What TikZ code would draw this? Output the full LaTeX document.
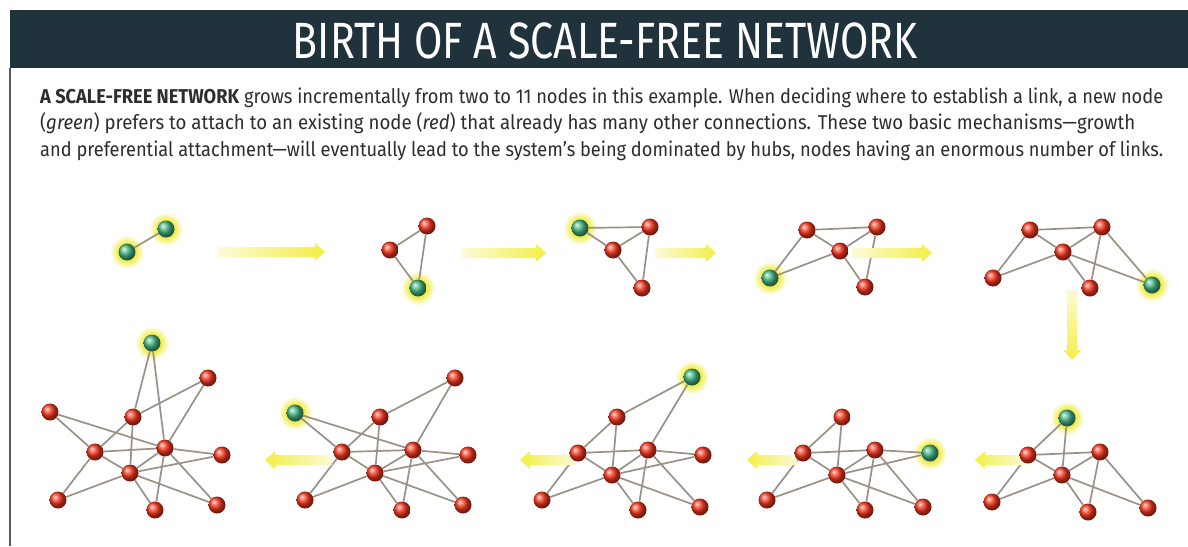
\documentclass[tikz,border=0pt]{standalone}
\usepackage{fontspec}
\usepackage{graphicx}
\newfontfamily\firafont{Fira Sans}
\usetikzlibrary{shadings}
\pgfdeclarelayer{bg}
\pgfdeclarelayer{edges}
\pgfsetlayers{bg,edges,main}
\definecolor{bandcol}{RGB}{32,50,60}
\definecolor{captcol}{RGB}{45,45,45}
\definecolor{nodered}{RGB}{250,55,30}
\definecolor{nodegreen}{RGB}{70,185,135}
\definecolor{linkcol}{RGB}{155,145,135}
\definecolor{arrowyellow}{RGB}{243,238,70}
\definecolor{arrowpale}{RGB}{252,250,215}
\definecolor{glowyellow}{RGB}{240,236,75}
\definecolor{bordercol}{RGB}{90,90,90}
\pgfdeclareradialshading{glowshade}{\pgfpoint{0bp}{0bp}}{color(0bp)=(glowyellow); color(13bp)=(glowyellow); color(25bp)=(white); color(50bp)=(white)}
\tikzset{
  rball/.style={circle, inner sep=0pt, minimum size=17pt, shading=ball, ball color=nodered},
  gball/.style={circle, inner sep=0pt, minimum size=17pt, shading=ball, ball color=nodegreen},
  link/.style={draw=linkcol, line width=1.7pt},
  glow/.style={shading=glowshade},
  pics/fatright/.style={code={
    \shade[left color=arrowpale, right color=arrowyellow]
      (0,-5) -- (#1-10,-5) -- (#1-10,-9) -- (#1,0) -- (#1-10,9) -- (#1-10,5) -- (0,5) -- cycle;}},
  pics/fatleft/.style={code={
    \shade[left color=arrowyellow, right color=arrowpale]
      (0,-5) -- (-#1+10,-5) -- (-#1+10,-9) -- (-#1,0) -- (-#1+10,9) -- (-#1+10,5) -- (0,5) -- cycle;}},
  pics/fatdown/.style={code={
    \shade[top color=arrowpale, bottom color=arrowyellow]
      (-5,0) -- (-5,#1-10) -- (-9,#1-10) -- (0,#1) -- (9,#1-10) -- (5,#1-10) -- (5,0) -- cycle;}},
  title/.style={text=white, inner sep=0pt, anchor=base, font=\firafont\fontsize{51}{51}\selectfont},
  capline/.style={text=captcol, inner sep=0pt, anchor=base west, font=\firafont\fontsize{20}{20}\selectfont}
}
\begin{document}
\begin{tikzpicture}[x=1pt,y=-1pt]
\useasboundingbox (0,0) rectangle (1188,546);
\begin{pgfonlayer}{bg}
\fill[white] (0,0) rectangle (1188,546);
\fill[bandcol] (10,10) rectangle (1188,68);
\draw[bordercol, line width=2pt] (9.5,68) -- (9.5,546);
\end{pgfonlayer}
\node[title] (ttl) at (605.5,58) {\resizebox{625pt}{\height}{BIRTH OF A SCALE-FREE NETWORK}};
\node[capline] (cap1) at (40,103) {\resizebox{1123pt}{\height}{\textbf{A SCALE-FREE NETWORK} grows incrementally from two to 11 nodes in this example. When deciding where to establish a link, a new node}};
\node[capline] (cap2) at (40,129.5) {\resizebox{1095pt}{\height}{(\textit{green}) prefers to attach to an existing node (\textit{red}) that already has many other connections. These two basic mechanisms—growth}};
\node[capline] (cap3) at (40,156) {\resizebox{1123pt}{\height}{and preferential attachment—will eventually lead to the system’s being dominated by hubs, nodes having an enormous number of links.}};

% arrows
\pic at (218,252) {fatright=107};
\pic at (462,253) {fatright=84};
\pic at (655,253) {fatright=61};
\pic at (852,253) {fatright=80};
\pic at (1072,290) {fatdown=70};
\pic at (1025,460) {fatleft=50};
\pic at (797,460) {fatleft=50};
\pic at (575,460) {fatleft=55};
\pic at (332,460) {fatleft=67};

% ---- panel 1
\node[gball] (a1) at (127,252) {};
\node[gball] (a2) at (166,229) {};
% ---- panel 2
\node[rball] (b1) at (427,226) {};
\node[rball] (b2) at (390,250) {};
\node[gball] (b3) at (418,288) {};
% ---- panel 3
\node[gball] (c0) at (580,228) {};
\node[rball] (c1) at (650,227) {};
\node[rball] (c2) at (613,250) {};
\node[rball] (c3) at (642,288) {};
% ---- panel 4
\node[gball] (d0) at (770,278) {};
\node[rball] (d1) at (807,230) {};
\node[rball] (d2) at (840,251) {};
\node[rball] (d3) at (877,227) {};
\node[rball] (d4) at (865,287) {};
% ---- panel 5
\node[rball] (e1) at (1030,230) {};
\node[rball] (e2) at (1102,227) {};
\node[rball] (e3) at (1063,252) {};
\node[rball] (e4) at (993,278) {};
\node[rball] (e5) at (1090,288) {};
\node[gball] (e0) at (1152,285) {};
% ---- panel 6
\node[gball] (f0) at (1067,418) {};
\node[rball] (f1) at (1028,455) {};
\node[rball] (f2) at (1100,452) {};
\node[rball] (f3) at (1062,475) {};
\node[rball] (f4) at (992,502) {};
\node[rball] (f5) at (1088,512) {};
\node[rball] (f6) at (1148,508) {};
% ---- panel 7
\node[rball] (g7) at (842,417) {};
\node[rball] (g1) at (803,453) {};
\node[rball] (g2) at (875,450) {};
\node[rball] (g3) at (837,475) {};
\node[rball] (g4) at (767,500) {};
\node[rball] (g5) at (865,510) {};
\node[rball] (g6) at (923,507) {};
\node[gball] (g0) at (930,453) {};
% ---- panel 8
\node[gball] (h0) at (692,377) {};
\node[rball] (h7) at (617,417) {};
\node[rball] (h1) at (578,453) {};
\node[rball] (h2) at (648,450) {};
\node[rball] (h3) at (612,475) {};
\node[rball] (h4) at (542,500) {};
\node[rball] (h5) at (638,510) {};
\node[rball] (h6) at (700,507) {};
\node[rball] (h8) at (703,455) {};
% ---- panel 9
\node[gball] (i0) at (295,413) {};
\node[rball] (i9) at (455,378) {};
\node[rball] (i7) at (380,417) {};
\node[rball] (i1) at (342,452) {};
\node[rball] (i2) at (413,450) {};
\node[rball] (i3) at (375,473) {};
\node[rball] (i4) at (305,500) {};
\node[rball] (i5) at (402,510) {};
\node[rball] (i6) at (463,505) {};
\node[rball] (i8) at (468,455) {};
% ---- panel 10
\node[gball] (j0) at (152,343) {};
\node[rball] (j9) at (208,378) {};
\node[rball] (j7) at (133,417) {};
\node[rball] (j10) at (50,412) {};
\node[rball] (j1) at (95,452) {};
\node[rball] (j2) at (165,448) {};
\node[rball] (j3) at (130,473) {};
\node[rball] (j4) at (58,500) {};
\node[rball] (j5) at (155,510) {};
\node[rball] (j6) at (217,505) {};
\node[rball] (j8) at (222,455) {};

\begin{pgfonlayer}{bg}
\foreach \g in {a1,a2,b3,c0,d0,e0,f0,g0,h0,i0,j0}
  \shade[glow] (\g.center) circle (17);
\end{pgfonlayer}

\begin{pgfonlayer}{edges}
\draw[link] (a1) -- (a2);
\draw[link] (b1) -- (b2) (b2) -- (b3) (b1) -- (b3);
\draw[link] (c0) -- (c1) (c0) -- (c2) (c2) -- (c1) (c1) -- (c3) (c2) -- (c3);
\draw[link] (d0) -- (d1) (d0) -- (d2) (d1) -- (d3) (d1) -- (d2) (d2) -- (d3) (d3) -- (d4) (d2) -- (d4);
\draw[link] (e1) -- (e2) (e1) -- (e3) (e1) -- (e4) (e3) -- (e4) (e3) -- (e2) (e2) -- (e5) (e3) -- (e5) (e2) -- (e0) (e3) -- (e0);
\draw[link] (f0) -- (f1) (f0) -- (f3) (f1) -- (f2) (f1) -- (f3) (f1) -- (f4) (f3) -- (f4) (f3) -- (f2) (f2) -- (f5) (f3) -- (f5) (f2) -- (f6) (f3) -- (f6);
\draw[link] (g7) -- (g1) (g7) -- (g3) (g1) -- (g2) (g1) -- (g3) (g1) -- (g4) (g3) -- (g4) (g3) -- (g2) (g2) -- (g5) (g3) -- (g5) (g2) -- (g6) (g3) -- (g6) (g2) -- (g0) (g3) -- (g0);
\draw[link] (h0) -- (h7) (h0) -- (h2) (h7) -- (h1) (h7) -- (h3) (h1) -- (h2) (h1) -- (h3) (h1) -- (h4) (h3) -- (h4) (h3) -- (h2) (h2) -- (h5) (h3) -- (h5) (h2) -- (h6) (h3) -- (h6) (h2) -- (h8) (h3) -- (h8);
\draw[link] (i0) -- (i1) (i0) -- (i2) (i9) -- (i7) (i9) -- (i2) (i7) -- (i1) (i7) -- (i3) (i1) -- (i2) (i1) -- (i3) (i1) -- (i4) (i3) -- (i4) (i3) -- (i2) (i2) -- (i5) (i3) -- (i5) (i2) -- (i6) (i3) -- (i6) (i2) -- (i8) (i3) -- (i8);
\draw[link] (j0) -- (j7) (j0) -- (j2) (j10) -- (j1) (j10) -- (j2) (j9) -- (j7) (j9) -- (j2) (j7) -- (j1) (j7) -- (j3) (j1) -- (j2) (j1) -- (j3) (j1) -- (j4) (j3) -- (j4) (j3) -- (j2) (j2) -- (j5) (j3) -- (j5) (j2) -- (j6) (j3) -- (j6) (j2) -- (j8) (j3) -- (j8);
\end{pgfonlayer}
\end{tikzpicture}
\end{document}
